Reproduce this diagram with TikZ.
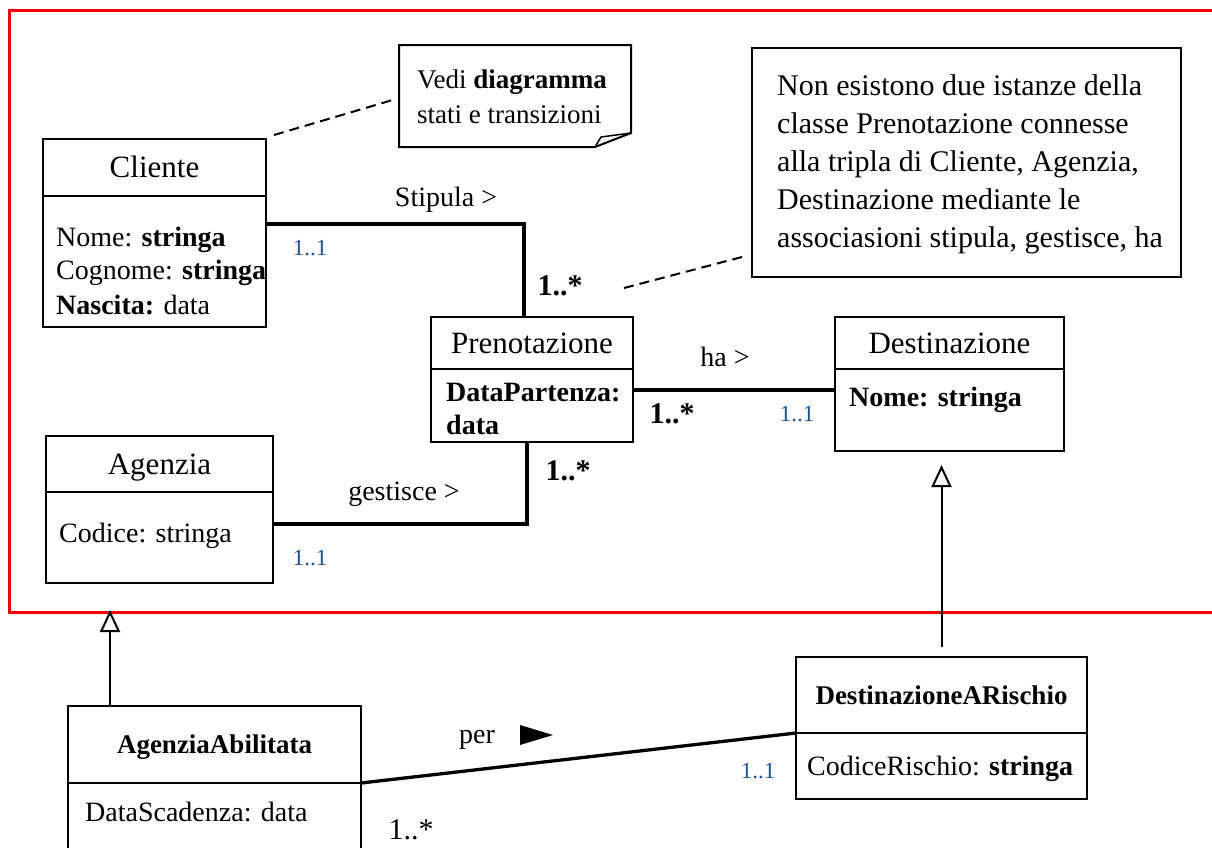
\documentclass[tikz,border=0pt]{standalone}
\usepackage{fontspec}
\setmainfont{Liberation Serif}
\usetikzlibrary{arrows.meta,calc}
\definecolor{framered}{RGB}{240,0,0}
\definecolor{mult}{RGB}{30,80,150}
\begin{document}
\begin{tikzpicture}[x=1pt,y=-1pt,
  classpart/.style={draw, line width=2pt, rectangle, anchor=north west, inner sep=0pt, outer sep=0pt},
  ctitle/.style={font=\fontsize{31}{36}\selectfont, text height=20pt, text depth=0pt},
  btitle/.style={font=\fontsize{27}{32}\selectfont\bfseries, text height=18pt, text depth=0pt},
  attr/.style={anchor=base west, inner sep=0pt, font=\fontsize{28}{34}\selectfont},
  lbl/.style={anchor=base, inner sep=0pt, font=\fontsize{28}{34}\selectfont},
  many/.style={anchor=base, inner sep=0pt, font=\fontsize{30}{34}\selectfont\bfseries},
  manyplain/.style={anchor=base, inner sep=0pt, font=\fontsize{30}{34}\selectfont},
  one/.style={anchor=base, inner sep=0pt, font=\fontsize{23}{28}\selectfont, text=mult},
  assoc/.style={line width=3.3pt},
  gen/.style={line width=2pt, -{Triangle[open, length=22pt, width=20pt, line width=2pt]}},
  notelink/.style={line width=2pt, dash pattern=on 10pt off 6pt},
  notetext/.style={anchor=north west, inner sep=0pt, align=left},
]
\clip (0,0) rectangle (1212,847);

% package frame
\draw[framered, line width=3pt] (9,10) rectangle (1230,612);

% ---- classes ----
\node[classpart, ctitle, minimum width=223pt, minimum height=57pt] (cliH) at (43,139) {Cliente};
\node[classpart, minimum width=223pt, minimum height=131pt] (cliB) at (43,196) {};
\node[attr] (cliA1) at (56,246) {Nome: \textbf{stringa}};
\node[attr] (cliA2) at (56,279) {Cognome: \textbf{stringa}};
\node[attr] (cliA3) at (56,314) {\textbf{Nascita:} data};

\node[classpart, ctitle, minimum width=202pt, minimum height=52pt] (prenH) at (431,317) {Prenotazione};
\node[classpart, minimum width=202pt, minimum height=73pt] (prenB) at (431,369) {};
\node[attr] (prenA1) at (446,401) {\textbf{DataPartenza:}};
\node[attr] (prenA2) at (446,434) {\textbf{data}};

\node[classpart, ctitle, minimum width=229pt, minimum height=52pt] (destH) at (835,317) {Destinazione};
\node[classpart, minimum width=229pt, minimum height=82pt] (destB) at (835,369) {};
\node[attr] (destA1) at (849,406) {\textbf{Nome: stringa}};

\node[classpart, ctitle, minimum width=227pt, minimum height=56pt] (agH) at (46,436) {Agenzia};
\node[classpart, minimum width=227pt, minimum height=91pt] (agB) at (46,492) {};
\node[attr] (agA1) at (59,542) {Codice: stringa};

\node[classpart, btitle, minimum width=293pt, minimum height=77pt] (aaH) at (68,706) {AgenziaAbilitata};
\node[classpart, minimum width=293pt, minimum height=90pt] (aaB) at (68,783) {};
\node[attr] (aaA1) at (85,821) {DataScadenza: data};

\node[classpart, btitle, minimum width=291pt, minimum height=76pt] (drH) at (796,657) {DestinazioneARischio};
\node[classpart, minimum width=291pt, minimum height=66pt] (drB) at (796,733) {};
\node[attr] (drA1) at (807,775) {CodiceRischio: \textbf{stringa}};

% ---- notes ----
\draw[line width=2pt] (399,45) -- (631,45) -- (631,133) -- (595,147) -- (399,147) -- cycle;
\draw[line width=1.5pt] (595,147) -- (601,137) -- (631,133);
\node[notetext, font=\fontsize{27}{35}\selectfont] (note1) at (417,70)
  {Vedi \textbf{diagramma}\\stati e transizioni};

\node[draw, line width=1.5pt, anchor=north west, inner sep=0pt,
      minimum width=429pt, minimum height=229pt] (note2box) at (751,47) {};
\node[notetext, font=\fontsize{30}{38}\selectfont] (note2) at (777,74)
  {Non esistono due istanze della\\classe Prenotazione connesse\\alla tripla di Cliente, Agenzia,\\Destinazione mediante le\\associasioni stipula, gestisce, ha};

\coordinate (cliLinkEnd) at (274,135);
\coordinate (note1Link) at (396,99);
\draw[notelink] (cliLinkEnd) -- (note1Link);
\coordinate (prenLinkEnd) at (624,288);
\coordinate (note2Link) at (742,257);
\draw[notelink] (prenLinkEnd) -- (note2Link);

% ---- associations ----
\draw[assoc] ($(cliB.north east)+(0,28)$) -| ($(prenH.north)+(-8,0)$);
\node[lbl] (stipula) at (446,206) {Stipula >};
\node[one] (m1) at (310,255) {1..1};
\node[many] (m2) at (560,295) {1..*};

\draw[assoc] ($(prenB.north east)+(0,21)$) -- ($(destB.north west)+(0,21)$);
\node[lbl] (ha) at (725,366) {ha >};
\node[many] (m3) at (672,423) {1..*};
\node[one] (m4) at (797,421) {1..1};

\draw[assoc] ($(prenB.south)+(-5,0)$) |- ($(agB.north east)+(0,32)$);
\node[lbl] (gestisce) at (404,500) {gestisce >};
\node[many] (m5) at (568,480) {1..*};
\node[one] (m6) at (310,565) {1..1};

\draw[assoc] (aaH.south east) -- (drH.south west);
\node[lbl] (per) at (477,743) {per};
\fill (520,725) -- (553,735) -- (520,745) -- cycle;
\node[manyplain] (m7) at (411,839) {1..*};
\node[one] (m8) at (758,778) {1..1};

% ---- generalizations ----
\draw[gen, shorten <=10pt, shorten >=14pt] (drH.north) -- (drH.north |- destB.south);
\coordinate (aaTop) at ($(aaH.north west)+(42,0)$);
\draw[gen, shorten >=27pt] (aaTop) -- (aaTop |- agB.south);
\end{tikzpicture}
\end{document}
